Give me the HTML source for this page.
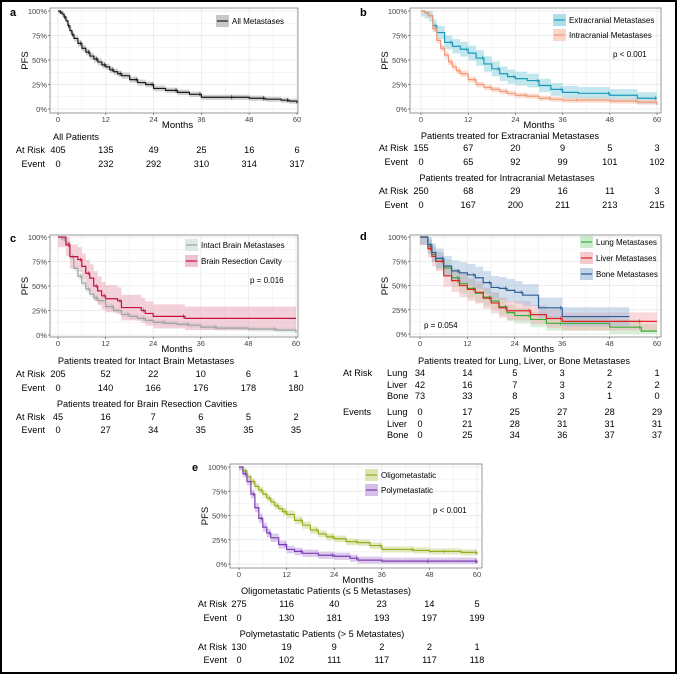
<!DOCTYPE html>
<html><head><meta charset="utf-8"><style>
html,body{margin:0;padding:0;background:#fff}
svg{display:block;font-family:"Liberation Sans",sans-serif}
</style></head><body>
<svg id="fig" width="677" height="674" viewBox="0 0 677 674">
<rect x="1" y="1" width="675" height="672" fill="#fff" stroke="#000" stroke-width="2"/>
</svg>
<script>
// ---- data ----
const monthTicks = [0, 12, 24, 36, 48, 60];
const pctTicks = [0, 0.25, 0.5, 0.75, 1];
const pctLabels = ["0%", "25%", "50%", "75%", "100%"];

const allT = [0,0.5,1,1.5,2,2.5,3,3.5,4,5,6,7,8,9,10,11,12,13,14,15,16,18,20,22,24,27,30,33,36,40,44,48,52,56,58,60];
const allS = [1,.99,.97,.94,.9,.85,.8,.76,.72,.67,.62,.58,.54,.51,.48,.45,.43,.4,.38,.36,.34,.3,.27,.25,.21,.19,.17,.15,.12,.12,.12,.11,.1,.09,.08,.06];

const extraT = [0,1,2,3,4,6,8,10,12,14,16,18,20,22,24,27,30,33,36,40,48,55,60];
const extraS = [1,.98,.95,.85,.78,.68,.64,.61,.57,.52,.46,.41,.36,.33,.31,.29,.24,.2,.17,.16,.14,.11,.11];
const intraT = [0,1,2,3,4,5,6,7,8,9,10,12,14,16,18,20,22,24,27,30,33,36,40,48,55,60];
const intraS = [1,.98,.95,.82,.7,.62,.55,.48,.43,.39,.36,.3,.25,.22,.2,.18,.16,.14,.13,.11,.1,.09,.09,.08,.07,.04];

const intactT = [0,1,2,3,4,5,6,7,8,9,10,12,14,16,18,20,22,24,27,30,33,36,40,48,55,60];
const intactS = [1,.98,.94,.8,.68,.6,.53,.47,.42,.38,.35,.29,.25,.21,.19,.17,.15,.13,.12,.11,.1,.08,.07,.06,.05,.02];
const resecT = [0,2,3,5,6,7,8,9,10,11,12,15,16,21,22,24,32,60];
const resecS = [1,.92,.8,.77,.7,.63,.58,.5,.45,.4,.37,.35,.28,.25,.22,.19,.17,.17];

const lungT = [0,2,3,4,6,8,10,12,14,16,18,20,22,24,28,32,36,48,56,60];
const lungS = [1,.9,.82,.75,.68,.58,.52,.47,.42,.38,.34,.28,.22,.19,.15,.11,.11,.07,.03,.03];
const liverT = [0,2,3,4,6,8,10,12,14,16,18,20,22,24,28,32,36,48,56,60];
const liverS = [1,.88,.8,.75,.6,.55,.5,.46,.43,.37,.32,.27,.24,.24,.2,.16,.13,.13,.13,.13];
const boneT = [0,2,3,4,6,8,10,12,14,16,18,20,22,24,26,30,36,53];
const boneS = [1,.92,.84,.78,.7,.65,.63,.61,.58,.53,.48,.47,.45,.43,.4,.27,.18,.18];

const oligoT = [0,1,2,3,4,5,6,7,8,9,10,11,12,14,16,18,20,22,24,27,30,33,36,40,44,48,52,56,60];
const oligoS = [1,.96,.9,.85,.8,.76,.72,.68,.64,.6,.57,.54,.51,.45,.4,.35,.31,.28,.26,.23,.22,.19,.15,.15,.14,.13,.13,.12,.1];
const polyT = [0,1,2,3,4,5,6,7,8,10,12,14,16,20,24,28,30,36,48,54,60];
const polyS = [1,.93,.85,.72,.58,.47,.38,.32,.27,.2,.15,.13,.11,.09,.08,.06,.04,.03,.03,.03,.01];

const aRisk = [405,135,49,25,16,6], aEvent = [0,232,292,310,314,317];
const bRisk1 = [155,67,20,9,5,3], bEvent1 = [0,65,92,99,101,102];
const bRisk2 = [250,68,29,16,11,3], bEvent2 = [0,167,200,211,213,215];
const cRisk1 = [205,52,22,10,6,1], cEvent1 = [0,140,166,176,178,180];
const cRisk2 = [45,16,7,6,5,2], cEvent2 = [0,27,34,35,35,35];
const dRiskLung = [34,14,5,3,2,1], dRiskLiver = [42,16,7,3,2,2], dRiskBone = [73,33,8,3,1,0];
const dEvLung = [0,17,25,27,28,29], dEvLiver = [0,21,28,31,31,31], dEvBone = [0,25,34,36,37,37];
const eRisk1 = [275,116,40,23,14,5], eEvent1 = [0,130,181,193,197,199];
const eRisk2 = [130,19,9,2,2,1], eEvent2 = [0,102,111,117,117,118];

// ---- drawing ----
const NS = "http://www.w3.org/2000/svg";
const svg = document.getElementById("fig");
function el(tag, attrs, parent, text) {
  const e = document.createElementNS(NS, tag);
  for (const k in attrs) e.setAttribute(k, attrs[k]);
  if (text !== undefined) e.textContent = text;
  (parent || svg).appendChild(e);
  return e;
}
function txt(x, y, s, size, anchor, parent, name, extra) {
  const t = el("text", Object.assign({x: x, y: y, "font-size": size, "text-anchor": anchor || "start", fill: "#000"}, extra || {}), parent, s);
  
  
  return t;
}

function panel(p) {
  const g = el("g", {});
  
  
  const X = m => p.xa + (m / 60) * (p.xb - p.xa);
  const Y = s => p.ya + (1 - s) * (p.yb - p.ya);
  const bg = el("rect", {x: p.bx0, y: p.by0, width: p.bx1 - p.bx0, height: p.by1 - p.by0, fill: "#fff"}, g);
  
  
  for (let m = 0; m <= 60; m += 6) {
    const l = el("line", {x1: X(m), x2: X(m), y1: p.by0, y2: p.by1, stroke: "#ececec", "stroke-width": m % 12 ? 0.5 : 0.9}, g);
    
    
  }
  for (let i = 0; i <= 8; i++) {
    const s = i / 8;
    const l = el("line", {x1: p.bx0, x2: p.bx1, y1: Y(s), y2: Y(s), stroke: "#ececec", "stroke-width": i % 2 ? 0.5 : 0.9}, g);
    
    
  }
  p.series.forEach(se => {
    const up = [], lo = [];
    se.t.forEach((t, i) => {
      const hw = se.ci * (1 - Math.abs(se.s[i] - 0.5) * 0.6);
      const u = Math.min(1, se.s[i] + hw), d = Math.max(0, se.s[i] - hw);
      if (i > 0) {
        const hwp = se.ci * (1 - Math.abs(se.s[i - 1] - 0.5) * 0.6);
        up.push([X(t), Y(Math.min(1, se.s[i - 1] + hwp))]); lo.push([X(t), Y(Math.max(0, se.s[i - 1] - hwp))]);
      }
      up.push([X(t), Y(u)]); lo.push([X(t), Y(d)]);
    });
    const pts = up.concat(lo.reverse()).map(q => q.join(",")).join(" ");
    const band = el("polygon", {points: pts, fill: se.band, "fill-opacity": se.op}, g);
    
    
  });
  p.series.forEach(se => {
    let d = "M" + X(se.t[0]) + "," + Y(se.s[0]);
    for (let i = 1; i < se.t.length; i++) d += "H" + X(se.t[i]) + "V" + Y(se.s[i]);
    const path = el("path", {d: d, fill: "none", stroke: se.color, "stroke-width": 1.2}, g);
    
    
    for (let i = 2; i < se.t.length; i += 2) {
      const c = el("line", {x1: X(se.t[i]) - 1.5, x2: X(se.t[i]) - 1.5, y1: Y(se.s[i - 1]) - 2, y2: Y(se.s[i - 1]) + 2, stroke: se.color, "stroke-width": 0.7}, g);
      
      
    }
  });
  const fr = el("rect", {x: p.bx0, y: p.by0, width: p.bx1 - p.bx0, height: p.by1 - p.by0, fill: "none", stroke: "#7f7f7f", "stroke-width": 0.8}, g);
  
  
  pctTicks.forEach((s, i) => {
    txt(p.bx0 - 3, Y(s) + 3, pctLabels[i], 7.5, "end", g, 'y-tick-label', {fill: "#444"});
    const tk = el("line", {x1: p.bx0 - 2, x2: p.bx0, y1: Y(s), y2: Y(s), stroke: "#444", "stroke-width": 0.6}, g);
    
    
  });
  monthTicks.forEach(m => {
    txt(X(m), p.by1 + 9, String(m), 7.5, "middle", g, 'x-tick-label', {fill: "#444"});
    const tk = el("line", {x1: X(m), x2: X(m), y1: p.by1, y2: p.by1 + 2, stroke: "#444", "stroke-width": 0.6}, g);
    
    
  });
  txt((p.xa + p.xb) / 2, p.by1 + 15, "Months", 9.5, "middle", g, 'x-axis-title');
  const cy = (p.by0 + p.by1) / 2;
  txt(p.bx0 - 22, cy, "PFS", 9.5, "middle", g, 'y-axis-title', {transform: "rotate(-90 " + (p.bx0 - 22) + " " + cy + ")"});
  txt(p.lx, p.ly, p.id, 11, "start", g, 'panel-letter', {"font-weight": "bold"});
  p.series.forEach((se, i) => {
    const ly = p.legY + i * p.legStep;
    const kb = el("rect", {x: p.legX, y: ly - 6, width: 13, height: 12, fill: se.band, "fill-opacity": Math.min(1, se.op + 0.15)}, g);
    
    
    const kl = el("line", {x1: p.legX + 1, x2: p.legX + 12, y1: ly, y2: ly, stroke: se.color, "stroke-width": 1.2}, g);
    
    
    txt(p.legX + 16, ly + 3, se.label, 8, "start", g, se.name + '-legend-label');
  });
  if (p.pv) txt(p.pv[0], p.pv[1], p.pv[2], 8, "start", g, 'p-value');
  const colX = k => p.xa + k * (p.xb - p.xa) / 5;
  p.rows.forEach(r => {
    if (r.title) { txt(r.tx, r.y, r.title, 9.2, "middle", g, 'risk-table-title'); return; }
    if (r.label) txt(r.lx, r.y, r.label, 9.2, r.anchor || "end", g, 'risk-table-row-label');
    if (r.sub) txt(r.sx, r.y, r.sub, 9.2, "start", g, 'risk-table-group-label');
    r.vals.forEach((v, k) => txt(colX(k), r.y, String(v), 9.2, "middle", g, 'risk-table-value'));
  });
}

panel({id: "a", bx0: 50, by0: 8, bx1: 298, by1: 113, xa: 58, xb: 297, ya: 11, yb: 109, lx: 10, ly: 16,
  legX: 216, legY: 21, legStep: 15,
  series: [{name: "all-metastases", label: "All Metastases", t: allT, s: allS, color: "#1a1a1a", band: "#bdbdbd", op: 0.7, ci: 0.035}],
  rows: [{title: "All Patients", tx: 76, y: 140},
         {label: "At Risk", lx: 45, y: 153, vals: aRisk}, {label: "Event", lx: 45, y: 167, vals: aEvent}]});

panel({id: "b", bx0: 410, by0: 8, bx1: 661, by1: 113, xa: 421, xb: 657, ya: 11, yb: 109, lx: 360, ly: 16,
  legX: 553, legY: 20, legStep: 15, pv: [613, 57, "p < 0.001"],
  series: [{name: "extracranial", label: "Extracranial Metastases", t: extraT, s: extraS, color: "#1a9ab8", band: "#8fd3e0", op: 0.55, ci: 0.08},
           {name: "intracranial", label: "Intracranial Metastases", t: intraT, s: intraS, color: "#f29a78", band: "#f9c9b6", op: 0.6, ci: 0.035}],
  rows: [{title: "Patients treated for Extracranial Metastases", tx: 510, y: 139},
         {label: "At Risk", lx: 408, y: 151, vals: bRisk1}, {label: "Event", lx: 408, y: 165, vals: bEvent1},
         {title: "Patients treated for Intracranial Metastases", tx: 507, y: 181},
         {label: "At Risk", lx: 408, y: 194, vals: bRisk2}, {label: "Event", lx: 408, y: 208, vals: bEvent2}]});

panel({id: "c", bx0: 50, by0: 235, bx1: 298, by1: 337, xa: 58, xb: 296, ya: 237, yb: 335, lx: 10, ly: 242,
  legX: 185, legY: 245, legStep: 16, pv: [250, 283, "p = 0.016"],
  series: [{name: "intact-brain", label: "Intact Brain Metastases", t: intactT, s: intactS, color: "#9aa4a2", band: "#d3e2de", op: 0.6, ci: 0.035},
           {name: "resection-cavity", label: "Brain Resection Cavity", t: resecT, s: resecS, color: "#c8103e", band: "#e7a3b6", op: 0.5, ci: 0.15}],
  rows: [{title: "Patients treated for Intact Brain Metastases", tx: 146, y: 364},
         {label: "At Risk", lx: 45, y: 377, vals: cRisk1}, {label: "Event", lx: 45, y: 391, vals: cEvent1},
         {title: "Patients treated for Brain Resection Cavities", tx: 147, y: 407},
         {label: "At Risk", lx: 45, y: 420, vals: cRisk2}, {label: "Event", lx: 45, y: 433, vals: cEvent2}]});

panel({id: "d", bx0: 410, by0: 235, bx1: 661, by1: 337, xa: 420, xb: 657, ya: 237, yb: 334, lx: 360, ly: 240,
  legX: 580, legY: 242, legStep: 16, pv: [424, 328, "p = 0.054"],
  series: [{name: "lung", label: "Lung Metastases", t: lungT, s: lungS, color: "#3aae3a", band: "#9fdc9f", op: 0.4, ci: 0.1},
           {name: "liver", label: "Liver Metastases", t: liverT, s: liverS, color: "#e02424", band: "#efa0a8", op: 0.4, ci: 0.12},
           {name: "bone", label: "Bone Metastases", t: boneT, s: boneS, color: "#2c5c96", band: "#9ab6d8", op: 0.45, ci: 0.12}],
  rows: [{title: "Patients treated for Lung, Liver, or Bone Metastases", tx: 524, y: 364},
         {label: "At Risk", lx: 343, anchor: "start", sub: "Lung", sx: 387, y: 376, vals: dRiskLung},
         {sub: "Liver", sx: 387, y: 388, vals: dRiskLiver},
         {sub: "Bone", sx: 387, y: 399, vals: dRiskBone},
         {label: "Events", lx: 343, anchor: "start", sub: "Lung", sx: 387, y: 415, vals: dEvLung},
         {sub: "Liver", sx: 387, y: 427, vals: dEvLiver},
         {sub: "Bone", sx: 387, y: 438, vals: dEvBone}]});

panel({id: "e", bx0: 230, by0: 464, bx1: 482, by1: 568, xa: 239, xb: 477, ya: 467, yb: 564, lx: 192, ly: 471,
  legX: 365, legY: 475, legStep: 15, pv: [433, 513, "p < 0.001"],
  series: [{name: "oligometastatic", label: "Oligometastatic", t: oligoT, s: oligoS, color: "#9aab1c", band: "#d6e0a6", op: 0.7, ci: 0.04},
           {name: "polymetastatic", label: "Polymetastatic", t: polyT, s: polyS, color: "#7b3cb5", band: "#cdb5e3", op: 0.7, ci: 0.05}],
  rows: [{title: "Oligometastatic Patients (≤ 5 Metastases)", tx: 326, y: 594},
         {label: "At Risk", lx: 227, y: 607, vals: eRisk1}, {label: "Event", lx: 227, y: 621, vals: eEvent1},
         {title: "Polymetastatic Patients (> 5 Metastates)", tx: 322, y: 637},
         {label: "At Risk", lx: 227, y: 650, vals: eRisk2}, {label: "Event", lx: 227, y: 663, vals: eEvent2}]});
</script>
</body></html>
